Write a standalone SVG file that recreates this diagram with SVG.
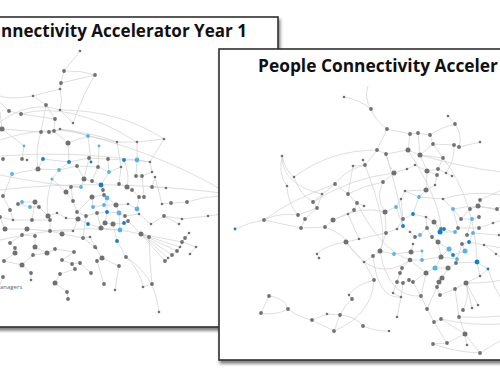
<svg xmlns="http://www.w3.org/2000/svg" width="500" height="383" viewBox="0 0 500 383">
<defs>
<style>
.slide{fill:#fff;stroke:#2f2f2f;stroke-width:1.6}
.e{fill:none;stroke:#d3d3d3;stroke-width:0.75}
.ng{fill:#717171}.nb{fill:#0b80d4}.nc{fill:#55b3ea}
.title{font-family:"Open Sans","Liberation Sans",sans-serif;font-weight:700;fill:#111}
.lbl{font-family:"Open Sans","Liberation Sans",sans-serif;font-size:6px;fill:#666}
</style>
<filter id="sh" x="-5%" y="-5%" width="115%" height="115%">
<feDropShadow dx="1.5" dy="3" stdDeviation="1.6" flood-color="#000" flood-opacity="0.5"/>
</filter>
<clipPath id="clipL"><rect x="0" y="17" width="278" height="310"/></clipPath>
<clipPath id="clipR"><rect x="219" y="49" width="281" height="311"/></clipPath>
</defs>

<g id="slide-year1">
<rect class="slide" x="-10" y="17" width="288" height="310" filter="url(#sh)"/>
<g clip-path="url(#clipL)">
<text id="title-year1" class="title" x="1" y="37" font-size="17" textLength="246" lengthAdjust="spacingAndGlyphs">nnectivity Accelerator Year 1</text>
<g id="connectors-year1">
<path class="e" d="M80 51L64 71M64 71Q80 70 95 75M64 71L61 83M95 75L61 83M61 83L60 89M60 89L33 96M60 89Q63 100 60 110M33 96L46 105M0 122Q30 100 60 110M46 105L55 119M60 110L73 123M9 111L21 114L55 119M55 119L54 131M2 129L41 132L49 132L54 131L60 129M60 129Q75 130 88 136M54 131L68 143L88 136L117 142L137 142L164 139M2 129L24 146L22 159M0 156Q75 150 150 162M43 159L69 162M68 143L69 162L89 158L91 162M89 158L108 159L124 160L137 160L150 162M99 146L98 167M117 142L121 167M137 142L137 160M164 139L150 162L152 172M38 169L59 170L77 166L98 167L109 172L121 167M38 169L12 174L3 196M52 179L59 170M52 179L66 192M77 166L84 179L92 181L101 185M109 172L101 185M119 184L121 167M136 176L142 176L152 172M155 177L152 187M101 185L103 190L104 195L107 198M81 187L71 187L66 192M84 179L81 187M119 184L127 187L132 190L139 197L144 197M152 187L166 188M92 197L104 195M92 197L93 207M73 201L66 192M73 201L77 212M22 202L35 202L39 207M18 204L30 207L39 207M93 207L104 205L107 198M104 205L116 205L128 204M116 205L119 213M137 209L139 197M137 209L128 204M162 204L171 203L187 202M187 202Q205 196 222 196M10 210L13 220M48 216L57 213M77 212L86 216L97 213L107 212L119 213L125 216L139 214M0 217L13 220L32 220L50 220M66 218L78 219L88 224L101 228L120 230L141 234L149 237M105 223L113 224L124 223L128 221M107 212L105 223M151 224L164 216L182 219L208 216L222 214M179 224L164 216M5 229L27 229L50 231L73 231M62 234L83 238L90 237M22 235L35 236L35 247M10 243L15 248L15 253M35 247L47 253L55 249L74 252L62 260L72 264L80 263M4 261L22 265L31 273L31 280M95 247L102 258L97 261M117 241L126 257M117 241L113 224M141 234L165 261M141 234L168 258M141 234L172 255M141 234L177 251M141 234L180 247M141 234L182 242M165 261L168 258L172 255L177 251L180 247L182 242L185 238L189 233M182 242L196 247M190 254L196 247M126 257Q140 270 143 287M126 257Q155 275 159 312M119 266L115 290M97 261L104 284M91 273L80 263M75 269L60 274L55 283L67 292L68 299M3 277L0 285M102 258L119 266M83 238L96 248M50 231L62 234M73 231L78 219M0 190Q100 178 222 193M60 129Q150 148 222 190M0 240Q60 225 120 230M143 287L152 284M2 129L0 112M9 111L0 102M41 132Q35 150 38 169M46 105L41 132M88 136L91 162M69 162L59 170M43 159L38 169M124 160Q130 175 127 187M137 160L136 176M108 159L109 172M89 158L84 179M98 167L92 181M52 179Q45 200 48 216M71 187L73 201M3 196L10 210M35 202L32 220M39 207L48 216M57 213L66 218M50 220L50 231M86 216L83 238M97 213L101 228M128 221L141 234M139 214L151 224M0 217L5 229M27 229L22 235M10 243L22 235M4 261L15 253M33 255L47 253M33 255L22 265M72 264L75 269M90 237L95 247M92 197L77 212M104 195L116 205M107 198L107 212M119 213L120 230M142 176L144 197M155 177L162 204M0 140Q60 120 117 142M21 114Q70 100 137 142M60 110Q120 110 164 139M0 175Q50 185 81 187M149 237Q150 265 152 284M95 75Q85 90 73 123M33 96Q10 100 0 96"/>
</g>
<g id="nodes-year1">
<g class="ng">
<circle cx="80" cy="51" r="1.3"/><circle cx="64" cy="71" r="1.9"/><circle cx="95" cy="75" r="1.9"/><circle cx="61" cy="83" r="1.9"/><circle cx="60" cy="89" r="1.3"/><circle cx="33" cy="96" r="1.3"/><circle cx="46" cy="105" r="1.9"/><circle cx="60" cy="110" r="1.3"/><circle cx="9" cy="111" r="1.9"/><circle cx="21" cy="114" r="1.9"/><circle cx="55" cy="119" r="1.9"/><circle cx="73" cy="123" r="1.3"/><circle cx="2" cy="129" r="2.5"/><circle cx="41" cy="132" r="1.9"/><circle cx="49" cy="132" r="1.9"/><circle cx="54" cy="131" r="1.9"/><circle cx="60" cy="129" r="1.3"/><circle cx="68" cy="143" r="2.5"/><circle cx="117" cy="142" r="1.3"/><circle cx="137" cy="142" r="1.3"/><circle cx="164" cy="139" r="1.3"/><circle cx="3" cy="159" r="1.9"/><circle cx="22" cy="159" r="1.9"/><circle cx="27" cy="160" r="1.3"/><circle cx="89" cy="158" r="1.9"/><circle cx="108" cy="159" r="1.9"/><circle cx="150" cy="162" r="1.3"/><circle cx="38" cy="169" r="2.5"/><circle cx="77" cy="166" r="1.9"/><circle cx="98" cy="167" r="1.9"/><circle cx="121" cy="167" r="1.3"/><circle cx="84" cy="179" r="2.5"/><circle cx="92" cy="181" r="1.9"/><circle cx="119" cy="184" r="1.9"/><circle cx="136" cy="176" r="1.9"/><circle cx="142" cy="176" r="1.9"/><circle cx="152" cy="172" r="1.3"/><circle cx="155" cy="177" r="1.3"/><circle cx="71" cy="187" r="1.9"/><circle cx="127" cy="187" r="2.5"/><circle cx="132" cy="190" r="1.9"/><circle cx="152" cy="187" r="1.9"/><circle cx="166" cy="188" r="1.3"/><circle cx="66" cy="192" r="2.5"/><circle cx="103" cy="190" r="1.9"/><circle cx="3" cy="196" r="1.9"/><circle cx="92" cy="197" r="2.5"/><circle cx="104" cy="195" r="1.9"/><circle cx="139" cy="197" r="1.9"/><circle cx="144" cy="197" r="1.9"/><circle cx="73" cy="201" r="1.9"/><circle cx="35" cy="202" r="2.5"/><circle cx="18" cy="204" r="1.9"/><circle cx="39" cy="207" r="1.9"/><circle cx="116" cy="205" r="2.5"/><circle cx="128" cy="204" r="1.3"/><circle cx="162" cy="204" r="1.3"/><circle cx="171" cy="203" r="1.9"/><circle cx="187" cy="202" r="1.9"/><circle cx="10" cy="210" r="1.9"/><circle cx="48" cy="216" r="2.5"/><circle cx="57" cy="213" r="1.3"/><circle cx="77" cy="212" r="1.9"/><circle cx="86" cy="216" r="1.9"/><circle cx="97" cy="213" r="1.9"/><circle cx="125" cy="216" r="1.9"/><circle cx="139" cy="214" r="1.3"/><circle cx="0" cy="217" r="1.9"/><circle cx="13" cy="220" r="1.3"/><circle cx="32" cy="220" r="1.9"/><circle cx="50" cy="220" r="1.9"/><circle cx="66" cy="218" r="1.3"/><circle cx="78" cy="219" r="2.5"/><circle cx="105" cy="223" r="2.5"/><circle cx="113" cy="224" r="2.5"/><circle cx="128" cy="221" r="1.9"/><circle cx="151" cy="224" r="1.3"/><circle cx="164" cy="216" r="1.9"/><circle cx="182" cy="219" r="1.3"/><circle cx="179" cy="224" r="1.3"/><circle cx="208" cy="216" r="1.3"/><circle cx="5" cy="229" r="2.5"/><circle cx="27" cy="229" r="2.5"/><circle cx="50" cy="231" r="1.9"/><circle cx="73" cy="231" r="1.3"/><circle cx="101" cy="228" r="2.5"/><circle cx="62" cy="234" r="2.5"/><circle cx="83" cy="238" r="1.9"/><circle cx="90" cy="237" r="1.3"/><circle cx="22" cy="235" r="1.9"/><circle cx="35" cy="236" r="1.9"/><circle cx="141" cy="234" r="2.5"/><circle cx="149" cy="237" r="1.9"/><circle cx="189" cy="233" r="1.3"/><circle cx="185" cy="238" r="1.9"/><circle cx="182" cy="242" r="1.9"/><circle cx="196" cy="247" r="1.3"/><circle cx="10" cy="243" r="1.9"/><circle cx="15" cy="248" r="1.9"/><circle cx="35" cy="247" r="2.5"/><circle cx="96" cy="248" r="1.3"/><circle cx="15" cy="253" r="2.5"/><circle cx="33" cy="255" r="1.9"/><circle cx="47" cy="253" r="2.5"/><circle cx="55" cy="249" r="1.9"/><circle cx="74" cy="252" r="1.9"/><circle cx="62" cy="260" r="1.9"/><circle cx="72" cy="264" r="1.9"/><circle cx="80" cy="263" r="1.9"/><circle cx="4" cy="261" r="1.9"/><circle cx="22" cy="265" r="2.5"/><circle cx="95" cy="247" r="1.9"/><circle cx="102" cy="258" r="2.5"/><circle cx="97" cy="261" r="1.9"/><circle cx="126" cy="257" r="1.9"/><circle cx="119" cy="266" r="1.9"/><circle cx="75" cy="269" r="1.9"/><circle cx="91" cy="273" r="1.9"/><circle cx="31" cy="273" r="1.9"/><circle cx="60" cy="274" r="1.9"/><circle cx="3" cy="277" r="1.9"/><circle cx="31" cy="280" r="1.3"/><circle cx="55" cy="283" r="2.5"/><circle cx="104" cy="284" r="1.9"/><circle cx="67" cy="292" r="1.9"/><circle cx="68" cy="299" r="1.9"/><circle cx="115" cy="290" r="1.3"/><circle cx="143" cy="287" r="1.3"/><circle cx="152" cy="284" r="1.9"/><circle cx="159" cy="312" r="1.3"/><circle cx="165" cy="261" r="1.9"/><circle cx="168" cy="258" r="1.3"/><circle cx="172" cy="255" r="1.9"/><circle cx="177" cy="251" r="1.9"/><circle cx="180" cy="247" r="1.3"/><circle cx="190" cy="254" r="1.3"/>
</g>
<g class="nb">
<circle cx="43" cy="159" r="1.9"/><circle cx="69" cy="162" r="1.9"/><circle cx="91" cy="162" r="1.4"/><circle cx="124" cy="160" r="1.9"/><circle cx="101" cy="185" r="2.4"/><circle cx="107" cy="212" r="1.9"/><circle cx="88" cy="224" r="1.9"/><circle cx="124" cy="223" r="1.9"/><circle cx="117" cy="241" r="1.9"/>
</g>
<g class="nc">
<circle cx="88" cy="136" r="1.9"/><circle cx="24" cy="146" r="1.4"/><circle cx="99" cy="146" r="1.4"/><circle cx="137" cy="160" r="2.4"/><circle cx="59" cy="170" r="1.9"/><circle cx="109" cy="172" r="1.9"/><circle cx="12" cy="174" r="1.9"/><circle cx="52" cy="179" r="1.5"/><circle cx="81" cy="187" r="1.9"/><circle cx="107" cy="198" r="2.4"/><circle cx="22" cy="202" r="1.9"/><circle cx="30" cy="207" r="1.9"/><circle cx="93" cy="207" r="1.9"/><circle cx="104" cy="205" r="1.9"/><circle cx="137" cy="209" r="2.4"/><circle cx="119" cy="213" r="2.4"/><circle cx="120" cy="230" r="2.4"/>
</g>
</g>
<text id="legend-year1" class="lbl" x="0" y="289">anagers</text>
</g>
</g>

<g id="slide-year2">
<rect class="slide" x="219" y="49" width="300" height="311" filter="url(#sh)"/>
<g clip-path="url(#clipR)">
<text id="title-year2" class="title" x="258" y="72" font-size="18.5" textLength="240" lengthAdjust="spacingAndGlyphs">People Connectivity Acceler</text>
<g id="connectors-year2">
<path class="e" d="M344 97Q360 100 371 109M371 109Q375 120 387 129M371 109Q364 98 368 86M448 116L455 124M455 124Q463 135 459 147M455 124Q440 128 430 135M387 129L410 134L418 133L430 135M410 134L408 150M418 133L420 155M430 135L433 144L454 145L459 147L480 142M387 129L377 150M377 150L386 154L408 150L420 155L443 158M433 144L443 158M433 144L420 155M282 156Q285 170 294 177M282 156Q278 175 287 186M282 156Q282 185 322 194M363 160L365 165M377 150L365 165L353 166M365 165Q345 170 335 184M353 166L348 194M427 171L438 169L446 173L452 176M407 169L415 165L427 171M394 173L407 169M394 173Q388 165 386 154M394 173L383 182M420 155L427 171M427 171L437 175L435 185L426 190M443 158L438 169M454 145Q455 160 446 173M427 171L426 190M383 182Q365 185 348 194M335 184L348 194L357 203L364 206M335 184L313 202M294 177Q300 195 313 202M287 186Q288 205 298 215M322 194L317 208M313 202L317 208L298 215M317 208L305 219M264 220Q280 212 298 215M235 229Q250 222 264 220M264 220L301 228L325 227L333 220L348 214L354 210L357 203M333 220Q360 205 385 212M385 212L396 207L401 199L405 191L426 190M405 191L419 197L443 199M383 182Q375 198 385 212M426 190L419 197M401 199L403 219M413 214L403 219L397 229L386 233M413 214L426 217L434 222L441 229L444 229M434 222L440 232M443 199L453 209L461 219L472 219L479 217M470 209L478 206L480 200M470 209L461 219M478 206L497 209L502 206M453 209L458 228L455 232L440 232M458 228L479 228L493 223L502 220M472 219L467 235L473 233L499 235M427 228L432 237L438 242M410 232L415 237L420 235L427 228M403 226L410 232M386 233L359 239L346 242M346 242Q325 245 317 254L319 258M346 242L364 262M364 262L373 256L380 251L394 254L411 252L422 251M380 251L386 233M413 244L411 252M438 242L449 249L453 255L465 251L462 244L469 242L484 245L502 248M441 257L449 249M441 257L457 259L456 263L477 262L488 269M410 260L422 260L441 257M410 260L402 268L400 273M435 268L448 268L442 278L439 282M426 273L435 268M426 273L410 260M397 282L403 283L409 280L413 282L426 273M374 280L364 262M374 280Q355 285 349 295L352 299M352 299Q345 305 340 315M374 280Q372 315 334 331M269 296L261 313Q275 316 288 309M269 296Q285 298 288 309M288 309Q300 318 312 320L327 314L340 315L334 331M312 320L334 331M340 315Q355 316 363 326Q378 332 389 331M397 317L401 297L393 293M421 296L427 309L434 322L441 319M440 295L437 287L439 282M437 287L427 309M466 283L455 289L459 317M466 283Q470 295 463 310M466 283L472 308M466 283L478 305M459 317L465 334L447 343M447 343L433 344M433 344Q455 352 480 353M465 334L480 353M465 334L467 345M441 319L465 334M434 322L447 343M480 276L477 262M480 276L466 283M466 283Q490 283 502 280M441 319Q470 326 502 324M459 317Q480 318 502 316M294 177Q330 150 377 150M313 202Q350 178 394 173M264 220Q290 200 335 184M346 242Q375 285 410 260M380 251Q388 298 421 296M373 256Q378 300 401 297M443 199Q470 190 502 195M453 209Q480 203 502 212M420 155Q465 168 502 172M480 200Q490 195 502 190M386 154Q400 200 403 226M408 150Q440 200 441 229M365 165Q390 230 380 251M443 158Q475 200 477 262M357 203Q380 250 410 260M325 227Q345 235 346 242M305 219L301 228M348 214L359 239M385 212L386 233M396 207L403 226M419 197L413 214M426 217L427 228M444 229L455 232M432 237L438 242L441 257M462 244L457 259M469 242L473 233M484 245L496 254M422 251L422 260M448 268L456 263M442 278L437 287M426 273L421 296M413 282L421 296M400 273L397 282M402 268L393 293M455 289L440 295M488 269L480 276M435 268L441 257M403 283L401 297M496 254L502 258M488 269Q495 290 502 300M480 353Q492 345 502 340"/>
</g>
<g id="nodes-year2">
<g class="ng">
<circle cx="344" cy="97" r="1.3"/><circle cx="371" cy="109" r="1.9"/><circle cx="448" cy="116" r="1.3"/><circle cx="455" cy="124" r="1.9"/><circle cx="387" cy="129" r="1.9"/><circle cx="410" cy="134" r="1.9"/><circle cx="418" cy="133" r="1.9"/><circle cx="430" cy="135" r="1.9"/><circle cx="433" cy="144" r="1.9"/><circle cx="454" cy="145" r="1.9"/><circle cx="459" cy="147" r="1.9"/><circle cx="480" cy="142" r="1.3"/><circle cx="377" cy="150" r="1.9"/><circle cx="386" cy="154" r="1.9"/><circle cx="408" cy="150" r="2.5"/><circle cx="420" cy="155" r="2.5"/><circle cx="443" cy="158" r="1.9"/><circle cx="282" cy="156" r="1.3"/><circle cx="363" cy="160" r="1.3"/><circle cx="365" cy="165" r="1.9"/><circle cx="353" cy="166" r="1.3"/><circle cx="427" cy="171" r="2.5"/><circle cx="438" cy="169" r="1.9"/><circle cx="407" cy="169" r="1.3"/><circle cx="415" cy="165" r="1.3"/><circle cx="394" cy="173" r="2.5"/><circle cx="446" cy="173" r="1.3"/><circle cx="452" cy="176" r="1.3"/><circle cx="437" cy="175" r="1.9"/><circle cx="294" cy="177" r="1.3"/><circle cx="383" cy="182" r="1.9"/><circle cx="335" cy="184" r="1.9"/><circle cx="435" cy="185" r="1.3"/><circle cx="287" cy="186" r="1.3"/><circle cx="426" cy="190" r="2.5"/><circle cx="405" cy="191" r="1.3"/><circle cx="348" cy="194" r="1.9"/><circle cx="322" cy="194" r="1.3"/><circle cx="401" cy="199" r="1.3"/><circle cx="443" cy="199" r="1.3"/><circle cx="357" cy="203" r="1.9"/><circle cx="313" cy="202" r="1.9"/><circle cx="317" cy="208" r="1.9"/><circle cx="364" cy="206" r="1.3"/><circle cx="480" cy="200" r="1.9"/><circle cx="470" cy="209" r="1.9"/><circle cx="478" cy="206" r="2.5"/><circle cx="497" cy="209" r="1.9"/><circle cx="385" cy="212" r="2.5"/><circle cx="354" cy="210" r="1.9"/><circle cx="348" cy="214" r="1.3"/><circle cx="298" cy="215" r="1.9"/><circle cx="305" cy="219" r="1.9"/><circle cx="333" cy="220" r="2.5"/><circle cx="403" cy="219" r="1.9"/><circle cx="426" cy="217" r="1.3"/><circle cx="434" cy="222" r="2.5"/><circle cx="461" cy="219" r="1.9"/><circle cx="479" cy="217" r="1.9"/><circle cx="264" cy="220" r="1.9"/><circle cx="301" cy="228" r="1.9"/><circle cx="325" cy="227" r="1.9"/><circle cx="397" cy="229" r="1.3"/><circle cx="427" cy="228" r="1.9"/><circle cx="441" cy="229" r="1.9"/><circle cx="458" cy="228" r="1.9"/><circle cx="479" cy="228" r="1.9"/><circle cx="493" cy="223" r="1.3"/><circle cx="386" cy="233" r="1.9"/><circle cx="410" cy="232" r="1.3"/><circle cx="415" cy="237" r="1.9"/><circle cx="432" cy="237" r="1.9"/><circle cx="467" cy="235" r="1.9"/><circle cx="499" cy="235" r="1.3"/><circle cx="359" cy="239" r="1.3"/><circle cx="346" cy="242" r="2.5"/><circle cx="438" cy="242" r="2.5"/><circle cx="462" cy="244" r="1.9"/><circle cx="484" cy="245" r="1.3"/><circle cx="413" cy="244" r="1.3"/><circle cx="380" cy="251" r="2.5"/><circle cx="411" cy="252" r="2.5"/><circle cx="496" cy="254" r="1.3"/><circle cx="317" cy="254" r="1.3"/><circle cx="319" cy="258" r="1.3"/><circle cx="364" cy="262" r="1.3"/><circle cx="373" cy="256" r="1.9"/><circle cx="441" cy="257" r="2.5"/><circle cx="456" cy="263" r="1.9"/><circle cx="410" cy="260" r="2.3"/><circle cx="448" cy="268" r="2.5"/><circle cx="402" cy="268" r="1.9"/><circle cx="480" cy="276" r="1.3"/><circle cx="400" cy="273" r="1.9"/><circle cx="426" cy="273" r="2.5"/><circle cx="442" cy="278" r="2.5"/><circle cx="397" cy="282" r="1.9"/><circle cx="403" cy="283" r="1.9"/><circle cx="409" cy="280" r="1.9"/><circle cx="413" cy="282" r="1.9"/><circle cx="439" cy="282" r="2.5"/><circle cx="437" cy="287" r="1.9"/><circle cx="466" cy="283" r="2.5"/><circle cx="374" cy="280" r="1.9"/><circle cx="455" cy="289" r="1.9"/><circle cx="393" cy="293" r="1.3"/><circle cx="401" cy="297" r="1.3"/><circle cx="349" cy="295" r="1.3"/><circle cx="352" cy="299" r="1.9"/><circle cx="421" cy="296" r="1.9"/><circle cx="440" cy="295" r="1.9"/><circle cx="269" cy="296" r="1.9"/><circle cx="261" cy="313" r="1.9"/><circle cx="288" cy="309" r="1.9"/><circle cx="312" cy="320" r="1.9"/><circle cx="327" cy="314" r="1.3"/><circle cx="340" cy="315" r="1.9"/><circle cx="334" cy="331" r="1.9"/><circle cx="363" cy="326" r="1.9"/><circle cx="389" cy="331" r="1.3"/><circle cx="397" cy="317" r="1.3"/><circle cx="427" cy="309" r="1.9"/><circle cx="434" cy="322" r="1.9"/><circle cx="441" cy="319" r="1.9"/><circle cx="463" cy="310" r="1.9"/><circle cx="472" cy="308" r="1.3"/><circle cx="478" cy="305" r="1.3"/><circle cx="459" cy="317" r="1.9"/><circle cx="465" cy="334" r="2.5"/><circle cx="433" cy="344" r="1.9"/><circle cx="447" cy="343" r="1.9"/><circle cx="467" cy="345" r="1.3"/><circle cx="480" cy="353" r="1.9"/>
</g>
<g class="nb">
<circle cx="413" cy="214" r="1.9"/><circle cx="235" cy="229" r="1.4"/><circle cx="403" cy="226" r="1.9"/><circle cx="440" cy="232" r="2.5"/><circle cx="444" cy="229" r="1.9"/><circle cx="469" cy="242" r="1.9"/><circle cx="453" cy="255" r="1.9"/><circle cx="477" cy="262" r="2.4"/><circle cx="488" cy="269" r="1.4"/>
</g>
<g class="nc">
<circle cx="419" cy="197" r="1.9"/><circle cx="396" cy="207" r="1.9"/><circle cx="453" cy="209" r="1.9"/><circle cx="472" cy="219" r="1.9"/><circle cx="455" cy="232" r="1.9"/><circle cx="420" cy="235" r="1.9"/><circle cx="473" cy="233" r="1.9"/><circle cx="394" cy="254" r="1.9"/><circle cx="422" cy="251" r="1.4"/><circle cx="449" cy="249" r="2.5"/><circle cx="465" cy="251" r="2.5"/><circle cx="422" cy="260" r="1.9"/><circle cx="457" cy="259" r="1.9"/><circle cx="435" cy="268" r="2.5"/>
</g>
</g>
</g>
</g>
</svg>
